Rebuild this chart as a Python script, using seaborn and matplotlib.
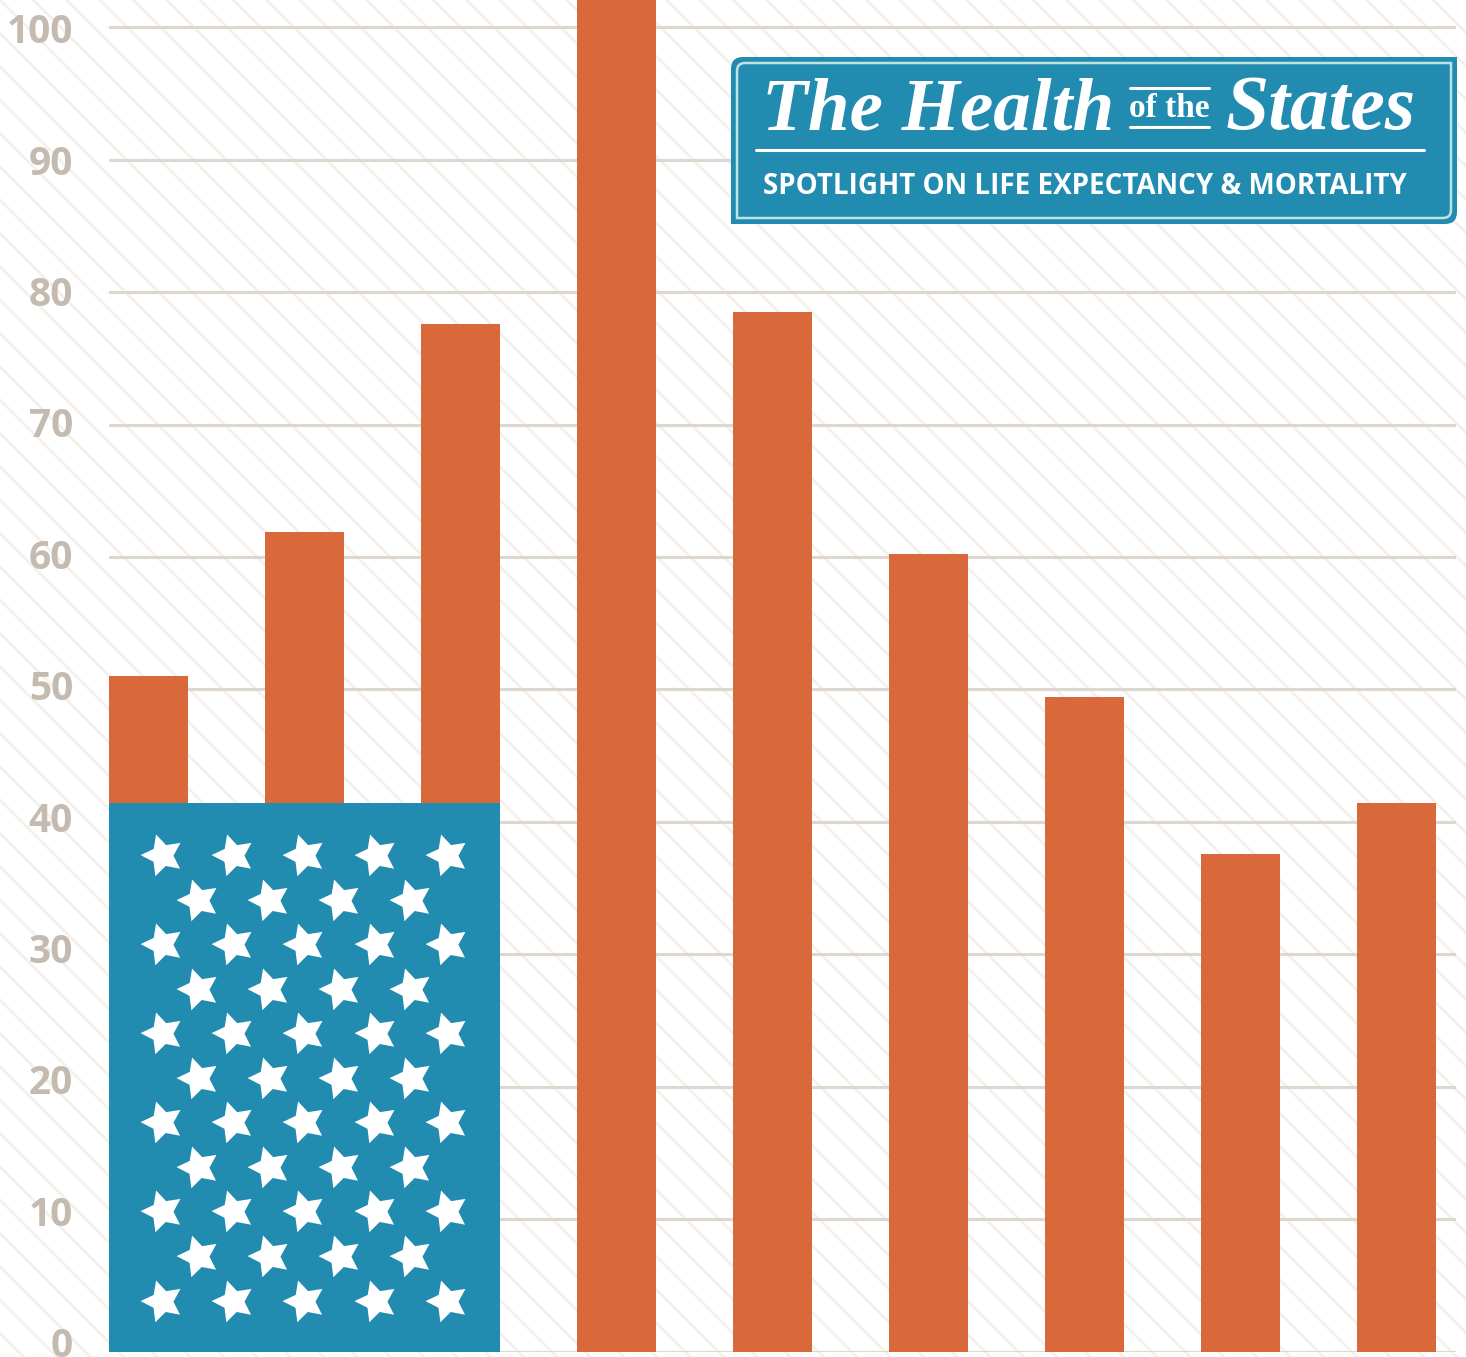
import matplotlib
matplotlib.use("Agg")
import matplotlib.pyplot as plt
import seaborn as sns
from matplotlib.patches import Rectangle, PathPatch
from matplotlib.lines import Line2D
from matplotlib.path import Path
from matplotlib.transforms import ScaledTranslation, blended_transform_factory

# values (bar 4 runs past the top of the frame)
categories = ["1", "2", "3", "4", "5", "6", "7", "8", "9"]
values = [51.0, 61.9, 77.6, 103.0, 78.5, 60.2, 49.4, 37.6, 41.4]
canton_top = 41.4  # blue star field laid over the first three bars
yticks = [0, 10, 20, 30, 40, 50, 60, 70, 80, 90, 100]

title_main = "The Health"
title_small = "of the"
title_end = "States"
subtitle = "SPOTLIGHT ON LIFE EXPECTANCY & MORTALITY"

ORANGE = "#d9693b"
BLUE = "#228bb0"
GRID = "#ddd7d0"
TICK = "#c4bab0"
HATCH = "#f4f1ec"
BORDER = "#bfe2e2"

sns.set_style("white")
plt.rcParams["font.family"] = ["Open Sans", "DejaVu Sans"]
plt.rcParams["hatch.linewidth"] = 2.0
plt.rcParams["hatch.color"] = HATCH

W, H = 1466, 1357
fig = plt.figure(figsize=(W / 100, H / 100), dpi=100)
fig.patch.set_facecolor("white")

# faint diagonal stripes over the whole background
bg = Rectangle((0, 0), 1, 1, transform=fig.transFigure, facecolor="white",
               edgecolor=HATCH, hatch="\\", linewidth=0, zorder=-10)
fig.add_artist(bg)

ax = fig.add_axes([109 / W, 5.5 / H, 1347 / W, 1351.5 / H])
ax.set_facecolor("none")

sns.barplot(x=categories, y=values, color=ORANGE, saturation=1, width=0.506,
            linewidth=0, ax=ax, zorder=2)

# star field: spans bars 1-3 up to canton_top
bars = ax.patches
x0 = bars[0].get_x()
x1 = bars[2].get_x() + bars[2].get_width()
ax.add_patch(Rectangle((x0, 0), x1 - x0, canton_top, facecolor=BLUE,
                       linewidth=0, zorder=3))

sx, sy = [], []
for r in range(11):
    n = 5 if r % 2 == 0 else 4
    start = 0.136 if n == 5 else 0.227
    for k in range(n):
        sx.append(x0 + (start + 0.182 * k) * (x1 - x0))
        sy.append(canton_top * (1 - (0.095 + 0.0812 * r)))
ax.scatter(sx, sy, marker=(5, 1, 17), s=1000, color="white", linewidths=0, zorder=4)

ax.set_xlim(-0.253, 8.381)
ax.set_ylim(0, 102.07)
ax.set_yticks(yticks)
ax.set_yticklabels([])
ax.set_xticks([])
ax.set_xlabel("")
ax.set_ylabel("")
ax.yaxis.grid(True, color=GRID, linewidth=2.2)
ax.xaxis.grid(False)
ax.set_axisbelow(True)
ax.tick_params(axis="y", length=0)
sns.despine(ax=ax, left=True, bottom=True)

# tick labels drift slightly above their gridlines towards the bottom
ylab_tr = blended_transform_factory(ax.transAxes, ax.transData)
for v in yticks:
    dy = (-0.8 + (100 - v) * 0.10) / 100
    ax.text(0, v, str(v), transform=ylab_tr + ScaledTranslation(-0.36, dy, fig.dpi_scale_trans),
            ha="right", va="center_baseline", fontsize=28, fontweight="bold",
            color=TICK, clip_on=False)


def box_path(bx0, by0, bx1, by1, r):
    # rounded top-left and bottom-right corners only
    verts = [(bx0, by0), (bx1 - r, by0), (bx1, by0), (bx1, by0 + r),
             (bx1, by1), (bx0 + r, by1), (bx0, by1), (bx0, by1 - r), (bx0, by0)]
    codes = [Path.MOVETO, Path.LINETO, Path.CURVE3, Path.CURVE3,
             Path.LINETO, Path.LINETO, Path.CURVE3, Path.CURVE3, Path.CLOSEPOLY]
    return Path(verts, codes)


tr = fig.dpi_scale_trans  # inches from bottom-left
fig.add_artist(PathPatch(box_path(7.31, 11.33, 14.57, 13.00, 0.12), transform=tr,
                         facecolor=BLUE, edgecolor="none", zorder=5))
fig.add_artist(PathPatch(box_path(7.37, 11.39, 14.51, 12.94, 0.08), transform=tr,
                         facecolor="none", edgecolor=BORDER, linewidth=1.8, zorder=6))

serif = ["Liberation Serif", "DejaVu Serif"]
fig.text(7.62, 12.28, title_main, transform=tr, family=serif, weight="bold",
         style="italic", size=54, color="white", ha="left", va="baseline", zorder=7)
fig.text(11.695, 12.403, title_small, transform=tr, family=serif, weight="bold",
         size=24, color="white", ha="center", va="baseline", zorder=7)
fig.text(12.26, 12.28, title_end, transform=tr, family=serif, weight="bold",
         style="italic", size=56, color="white", ha="left", va="baseline", zorder=7)
for yy in (12.693, 12.303):
    fig.add_artist(Line2D([11.30, 12.09], [yy, yy], transform=tr, color="white",
                          linewidth=2.2, zorder=7))
fig.add_artist(Line2D([7.56, 14.24], [12.07, 12.07], transform=tr, color="white",
                      linewidth=2.2, zorder=7))
fig.text(7.63, 11.63, subtitle, transform=tr, weight="bold", size=20,
         color="white", ha="left", va="baseline", zorder=7)

fig.savefig("out.png", dpi=100)
